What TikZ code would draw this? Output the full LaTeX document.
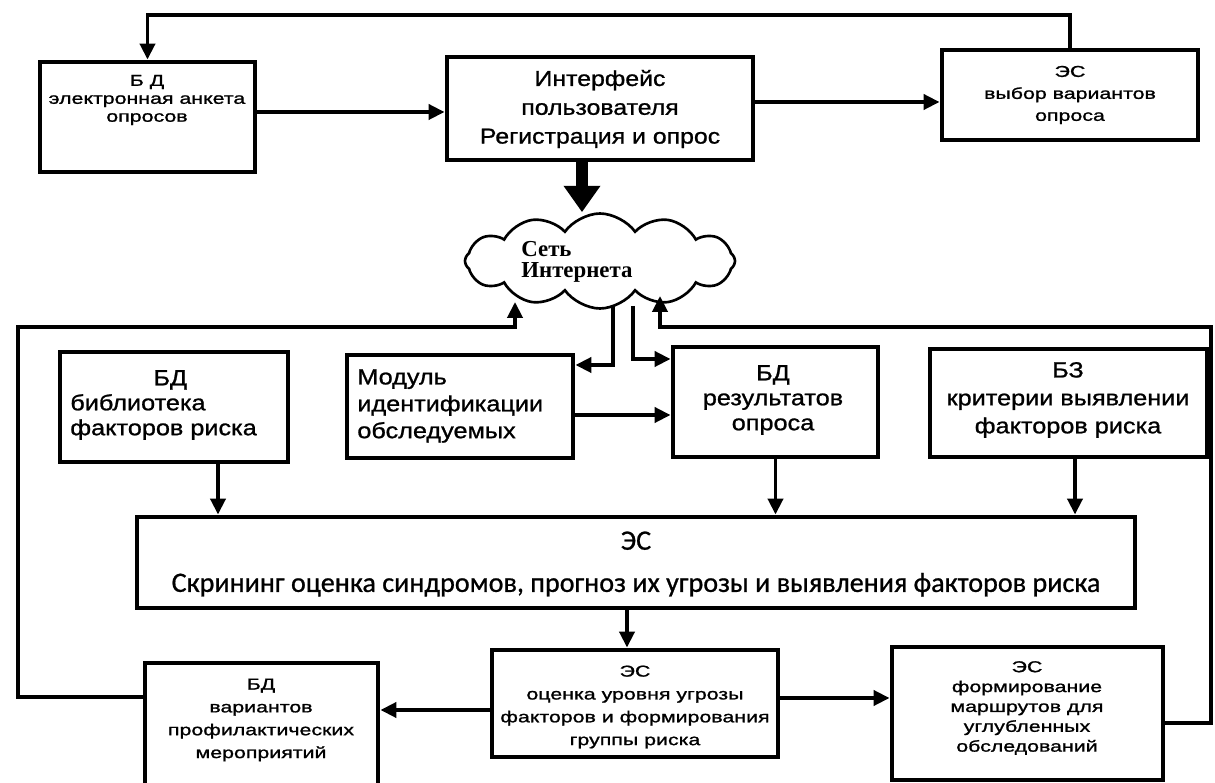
\documentclass[tikz,border=0pt]{standalone}
\usepackage{fontspec}
\setmainfont{Liberation Sans}
\newfontfamily\widesf[FakeStretch=1.15,FakeBold=1]{Liberation Sans}
\newfontfamily\widersf[FakeStretch=1.35,FakeBold=1.2]{Liberation Sans}
\newfontfamily\calib[FakeBold=0.8]{Carlito}
\newfontfamily\netfont{Liberation Serif}
\usetikzlibrary{arrows.meta,shapes.symbols}
\tikzset{
	blk/.style={draw,line width=2.8pt},
	sz/.style 2 args={minimum width=#1*0.02cm,minimum height=#2*0.02cm},
	txt/.style={inner sep=0pt,align=center},
	midtxt/.style={font=\widesf\fontsize{12.5pt}{#1}\selectfont},
	smalltxt/.style={font=\widersf\fontsize{9pt}{#1}\selectfont},
	conn/.style={line width=2.1pt,-{Triangle[length=9pt,width=8.5pt]}},
	fatarrow/.style={line width=6.5pt,-{Triangle[length=15pt,width=20pt]}}
}

\begin{document}
\begin{tikzpicture}[x=0.02cm,y=-0.02cm]
	\useasboundingbox (0,0) rectangle (1215,783);
	
	%top row
	\node[blk,sz={215}{110}] (anketa) at (147.5,117) {};
	\node[txt,smalltxt=10.2pt] (anketatxt) at (147,100) {Б Д\\электронная анкета\\опросов};
	\node[blk,sz={306}{103}] (iface) at (600,108.5) {};
	\node[txt,font=\widesf\fontsize{12.3pt}{16.4pt}\selectfont] (ifacetxt) at (600,109) {Интерфейс\\пользователя\\Регистрация и опрос};
	\node[blk,sz={256}{90}] (choice) at (1070,95) {};
	\node[txt,smalltxt=12.5pt] (choicetxt) at (1070,95) {ЭС\\выбор вариантов\\опроса};
	
	%cloud
	\node[cloud,draw,line width=1.5pt,cloud puffs=12,cloud puff arc=110,cloud ignores aspect,
		minimum width=270*0.02cm,minimum height=95*0.02cm,inner sep=0pt] (net) at (600,261) {};
	\node[inner sep=0pt,anchor=west,align=left,font=\netfont\bfseries\fontsize{13pt}{12pt}\selectfont] (nettxt) at (521,262) {Сеть\\Интернета};
	\coordinate (netL) at (515,302);
	\coordinate (netR) at (660,296);
	\coordinate (netD1) at (613,306);
	\coordinate (netD2) at (633,306);
	
	%middle row
	\node[blk,sz={228}{110}] (lib) at (174,407) {};
	\node[inner sep=0pt,anchor=west,align=left,midtxt=14.2pt] (libtxt) at (70,405) {\makebox[4.0cm]{БД}\\библиотека\\факторов риска};
	\node[blk,sz={226}{103}] (ident) at (460,406.5) {};
	\node[inner sep=0pt,anchor=west,align=left,midtxt=15.3pt] (identtxt) at (357,406) {Модуль\\идентификации\\обследуемых};
	\node[blk,sz={205}{110}] (res) at (775.5,402) {};
	\node[txt,midtxt=14.2pt] (restxt) at (773,400) {БД\\результатов\\опроса};
	\node[blk,sz={277}{108}] (crit) at (1068.5,403) {};
	\node[txt,midtxt=15.9pt] (crittxt) at (1068,400) {БЗ\\критерии выявлении\\факторов риска};
	
	%screening
	\node[blk,sz={998}{91}] (screen) at (636,562.5) {};
	\node[txt,font=\calib\fontsize{16pt}{24pt}\selectfont] (screentxt) at (636,564) {ЭС\\Скрининг оценка синдромов, прогноз их угрозы и выявления факторов риска};
	
	%bottom row
	\node[blk,sz={233}{132}] (prev) at (261.5,729) {};
	\node[txt,smalltxt=13pt] (prevtxt) at (261,720) {БД\\вариантов\\профилактических\\мероприятий};
	\node[blk,sz={286}{107}] (assess) at (635,703.5) {};
	\node[txt,smalltxt=13pt] (assesstxt) at (635,707) {ЭС\\оценка уровня угрозы\\факторов и формирования\\группы риска};
	\node[blk,sz={271}{133}] (route) at (1027.5,713.5) {};
	\node[txt,smalltxt=11.3pt] (routetxt) at (1027,708) {ЭС\\формирование\\маршрутов для\\углубленных\\обследований};
	
	%connectors
	\draw[conn] (choice.north) |- (anketa.north |- 0,15) -- (anketa.north);
	\draw[conn] (anketa.east |- 0,112) -- (iface.west |- 0,112);
	\draw[conn] (iface.east |- 0,102) -- (choice.west |- 0,102);
	\draw[fatarrow] (iface.south -| 582,0) -- (net.north -| 582,0);
	\draw[conn] (prev.west |- 0,697) -| (18,327) -| (netL);
	\draw[conn] (route.east |- 0,723) -| (1211,327) -| (netR);
	\draw[conn] (netD1) |- (ident.east |- 0,365);
	\draw[conn] (netD2) |- (res.west |- 0,359);
	\draw[conn] (ident.east |- 0,415) -- (res.west |- 0,415);
	\draw[conn] (lib.south -| 218,0) -- (screen.north -| 218,0);
	\draw[conn] (res.south) -- (res.south |- screen.north);
	\draw[conn] (crit.south -| 1075,0) -- (screen.north -| 1075,0);
	\draw[conn] (screen.south -| 627,0) -- (assess.north -| 627,0);
	\draw[conn] (assess.west |- 0,710) -- (prev.east |- 0,710);
	\draw[conn] (assess.east |- 0,698) -- (route.west |- 0,698);
\end{tikzpicture}
\end{document}
